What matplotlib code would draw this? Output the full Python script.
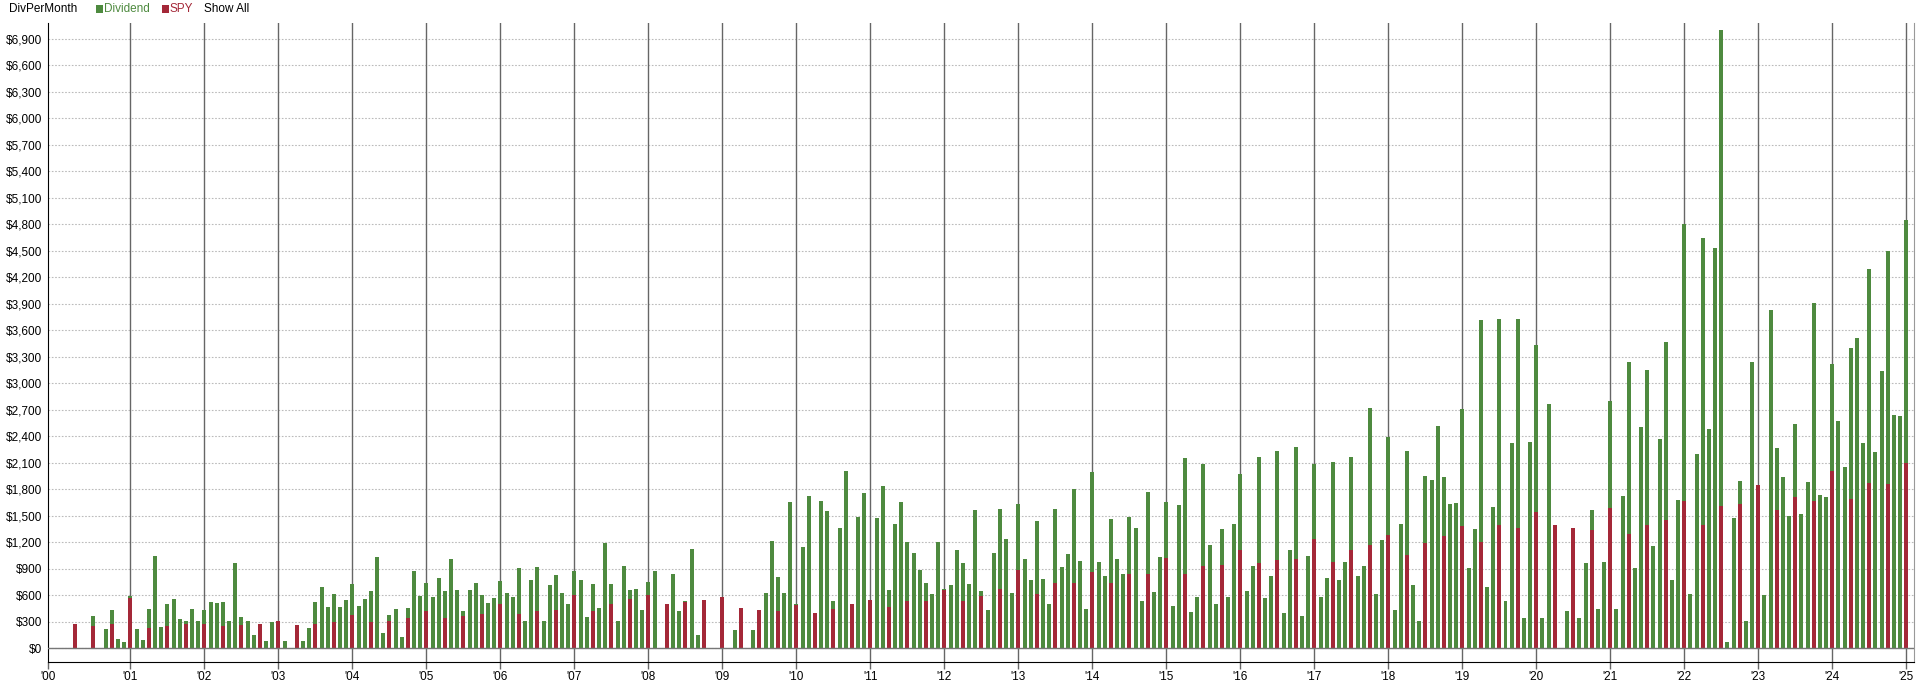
import numpy as np
import matplotlib.pyplot as plt
from matplotlib.patches import Rectangle
from matplotlib.ticker import FuncFormatter

# monthly totals, Jan 2000 .. Jan 2025 (one row per year)
dividend = [
    0, 0, 0, 270, 0, 0, 370, 0, 215, 437, 104, 70,
    593, 215, 93, 448, 1048, 237, 504, 560, 337, 315, 448, 315,
    437, 526, 515, 526, 304, 970, 359, 304, 148, 281, 81, 293,
    315, 81, 0, 259, 81, 226, 526, 693, 470, 615, 470, 548,
    726, 481, 559, 648, 1037, 170, 381, 448, 126, 459, 881, 593,
    737, 581, 793, 648, 1015, 659, 426, 659, 737, 604, 515, 570,
    759, 626, 581, 904, 304, 770, 926, 304, 715, 826, 626, 504,
    881, 770, 359, 726, 459, 1193, 726, 304, 937, 659, 670, 437,
    748, 870, 0, 504, 837, 426, 537, 1126, 148, 548, 0, 0,
    581, 0, 208, 457, 0, 208, 434, 626, 1215, 808, 626, 1657,
    502, 1147, 1725, 400, 1668, 1555, 536, 1362, 2008, 502, 1487, 1758,
    547, 1475, 1838, 660, 1408, 1657, 1204, 1079, 887, 740, 615, 1204,
    672, 717, 1113, 966, 728, 1566, 649, 434, 1079, 1577, 1238, 626,
    1634, 1011, 774, 1442, 785, 502, 1577, 921, 1068, 1804, 989, 445,
    1996, 977, 819, 1464, 1011, 842, 1487, 1362, 536, 1770, 638, 1034,
    1657, 479, 1623, 2155, 411, 581, 2087, 1170, 502, 1351, 581, 1408,
    1974, 649, 932, 2166, 570, 819, 2234, 400, 1113, 2279, 366, 1045,
    2087, 581, 796, 2109, 774, 977, 2166, 819, 932, 2721, 615, 1226,
    2392, 434, 1408, 2234, 717, 309, 1951, 1906, 2517, 1940, 1634, 1645,
    2709, 909, 1351, 3717, 694, 1600, 3728, 536, 2325, 3728, 343, 2336,
    3434, 343, 2766, 1396, 0, 423, 1362, 343, 966, 1566, 445, 977,
    2800, 445, 1725, 3242, 909, 2506, 3151, 1158, 2370, 3468, 774, 1679,
    4804, 615, 2200, 4645, 2483, 4532, 7000, 72, 1475, 1894, 309, 3242,
    1849, 604, 3830, 2268, 1940, 1498, 2540, 1521, 1883, 3910, 1736, 1713,
    3219, 2574, 2053, 3400, 3513, 2325, 4295, 2223, 3140, 4498, 2642, 2630,
    4850,
]

# SPY part of each month
spy = [
    0, 0, 0, 270, 0, 0, 250, 0, 0, 270, 0, 0,
    570, 0, 0, 230, 0, 0, 252, 0, 0, 270, 0, 0,
    281, 0, 0, 252, 0, 0, 259, 0, 0, 281, 0, 0,
    315, 0, 0, 259, 0, 0, 270, 0, 0, 293, 0, 0,
    381, 0, 0, 293, 0, 0, 315, 0, 0, 348, 0, 0,
    426, 0, 0, 348, 0, 0, 370, 0, 0, 393, 0, 0,
    504, 0, 0, 393, 0, 0, 426, 0, 0, 437, 0, 0,
    604, 0, 0, 426, 0, 0, 504, 0, 0, 559, 0, 0,
    604, 0, 0, 504, 0, 0, 526, 0, 0, 548, 0, 0,
    581, 0, 0, 457, 0, 0, 434, 0, 0, 423, 0, 0,
    491, 0, 0, 400, 0, 0, 445, 0, 0, 502, 0, 0,
    547, 0, 0, 468, 0, 0, 536, 0, 0, 536, 0, 0,
    660, 0, 0, 536, 0, 0, 592, 0, 0, 672, 0, 0,
    887, 0, 0, 615, 0, 0, 740, 0, 0, 740, 0, 0,
    864, 0, 0, 740, 0, 0, 842, 0, 0, 842, 0, 0,
    1023, 0, 0, 842, 0, 0, 932, 0, 0, 943, 0, 0,
    1113, 0, 0, 966, 0, 0, 1000, 0, 0, 1011, 0, 0,
    1238, 0, 0, 977, 0, 0, 1113, 0, 0, 1170, 0, 0,
    1283, 0, 0, 1057, 0, 0, 1192, 0, 0, 1272, 0, 0,
    1385, 0, 0, 1204, 0, 0, 1396, 0, 0, 1362, 0, 0,
    1543, 0, 0, 1396, 0, 0, 1362, 0, 0, 1340, 0, 0,
    1589, 0, 0, 1294, 0, 0, 1396, 0, 0, 1453, 0, 0,
    1668, 0, 0, 1396, 0, 0, 1611, 0, 0, 1634, 0, 0,
    1849, 0, 0, 1566, 0, 0, 1713, 0, 0, 1668, 0, 0,
    2008, 0, 0, 1691, 0, 0, 1872, 0, 0, 1860, 0, 0,
    2098,
]

start_year = 2000
years = list(range(2001, 2026))
year_labels = ["'00"] + ["'%02d" % (y % 100) for y in years]

GREEN = '#4e8a3f'
RED = '#a42838'

W, H = 1916, 696
fig = plt.figure(figsize=(W / 100, H / 100), dpi=100)
plt.rcParams['font.family'] = ['Liberation Sans', 'DejaVu Sans']

left, right, top, bottom = 48.3, 1914, 22.7, 662.3
ax = fig.add_axes([left / W, (H - bottom) / H, (right - left) / W, (bottom - top) / H])

x = start_year + np.arange(len(dividend)) / 12.0
ax.bar(x, dividend, width=0.054, color=GREEN, linewidth=0, zorder=2)
ax.bar(x, spy, width=0.054, color=RED, linewidth=0, zorder=3)

x0 = 1999.89
ax.set_xlim(x0, 2025.104)
ax.set_ylim(-158, 7083)

ax.set_yticks(np.arange(0, 7000, 300))
ax.yaxis.set_major_formatter(FuncFormatter(lambda v, p: '${:,.0f}'.format(v)))
ax.tick_params(axis='y', length=0, pad=4.5, labelsize=8.5, colors='black')

ax.set_xticks([x0] + years)
ax.set_xticklabels(year_labels)
ax.tick_params(axis='x', length=5, width=1, color='#666666', pad=1.5, labelsize=8.5)

# grid
ax.set_axisbelow(True)
ax.yaxis.grid(True, color='#bbbbbb', linestyle=(0, (1.5, 1.5)), linewidth=0.8)
for y in years:
    ax.axvline(y, color='#666666', linewidth=1, zorder=1)
ax.axhline(0, color='#777777', linewidth=1, zorder=4)

for s in ['top']:
    ax.spines[s].set_visible(False)
ax.spines['right'].set_color('#999999')
ax.spines['left'].set_color('black')
ax.spines['bottom'].set_color('black')

# legend bar at the top
ty = 1 - 8.5 / H
fig.text(9 / W, ty, 'DivPerMonth', fontsize=8.5, va='center', ha='left', color='black')
fig.patches.append(Rectangle((96 / W, 1 - 12.5 / H), 7 / W, 8 / H, transform=fig.transFigure,
                             facecolor=GREEN, edgecolor='none'))
fig.text(104 / W, ty, 'Dividend', fontsize=8.5, va='center', ha='left', color=GREEN)
fig.patches.append(Rectangle((162 / W, 1 - 12.5 / H), 7 / W, 8 / H, transform=fig.transFigure,
                             facecolor=RED, edgecolor='none'))
fig.text(170 / W, ty, 'SPY', fontsize=8.5, va='center', ha='left', color=RED)
fig.text(204 / W, ty, 'Show All', fontsize=8.5, va='center', ha='left', color='black')

fig.savefig('out.png', dpi=100)
